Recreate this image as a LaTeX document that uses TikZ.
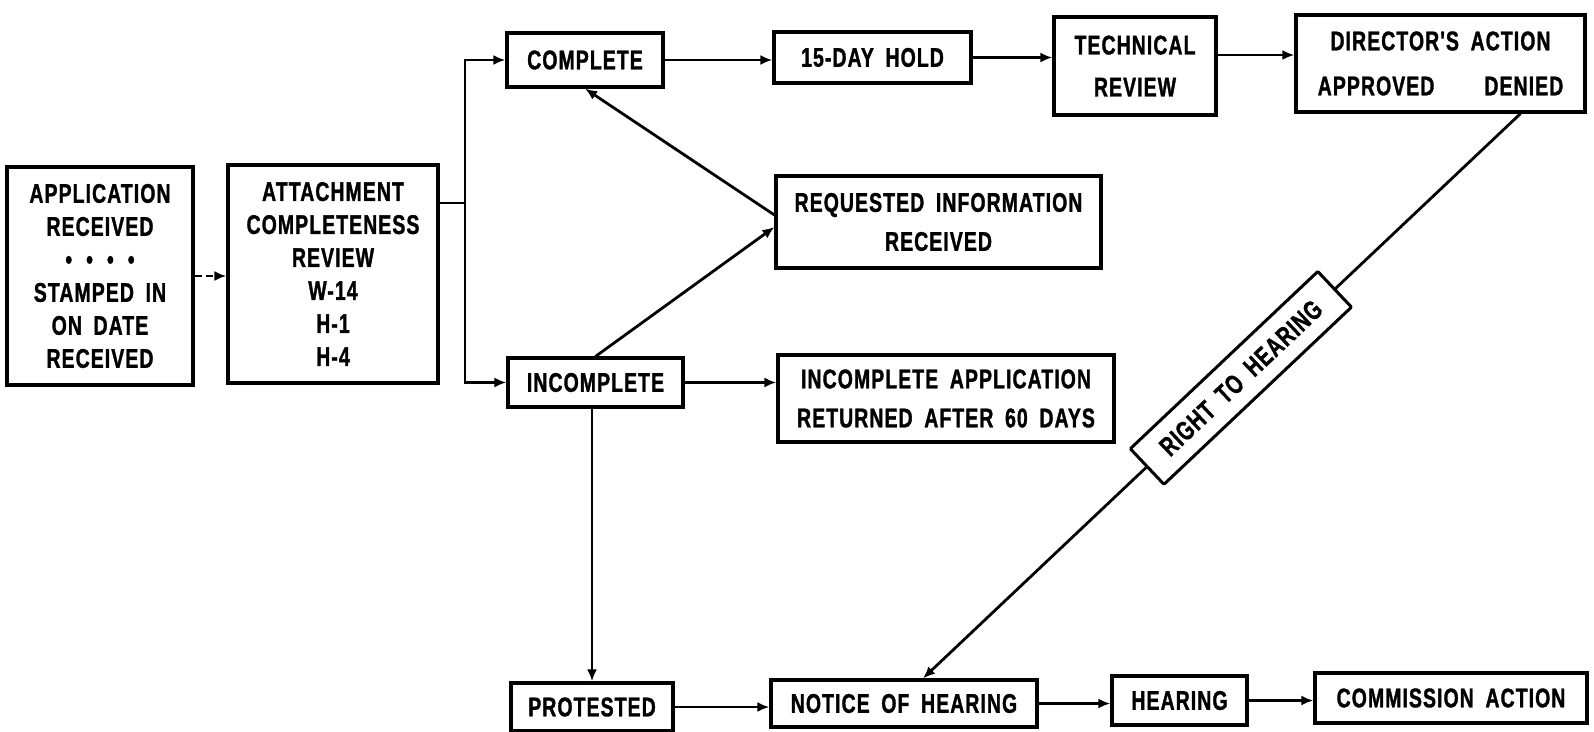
\documentclass[tikz,border=0pt]{standalone}
\usepackage{fontspec}
\newfontfamily\chartfont{Liberation Sans}[FakeStretch=0.72,FakeBold=1.2,WordSpace=1.8,LetterSpace=4]
\usetikzlibrary{arrows.meta}
\tikzset{
  stagebox/.style={draw, line width=3.2pt, fill=white, inner sep=0pt, align=center,
    font=\chartfont\bfseries\fontsize{27}{33}\selectfont},
  flow/.style={line width=2.8pt, -{Latex[length=12pt,width=10pt]}},
  plainline/.style={line width=2.8pt},
  tagbox/.style={draw, line width=3pt, fill=white, inner sep=0pt,
    minimum width=258pt, minimum height=49pt, rounded corners=1pt,
    font=\chartfont\bfseries\fontsize{27}{33}\selectfont}
}
\begin{document}
\begin{tikzpicture}[x=1pt, y=-1pt]
\useasboundingbox[fill=white] (0,0) rectangle (1594,731);

% intake column
\node[stagebox, minimum width=186pt, minimum height=218pt] (app) at (100,276)
  {APPLICATION\\RECEIVED\\\textbullet\hspace{14pt}\textbullet\hspace{14pt}\textbullet\hspace{14pt}\textbullet\\STAMPED IN\\ON DATE\\RECEIVED};
\node[stagebox, minimum width=210pt, minimum height=218pt] (att) at (333,274)
  {ATTACHMENT\\COMPLETENESS\\REVIEW\\W-14\\H-1\\H-4};

% upper row
\node[stagebox, minimum width=156pt, minimum height=54pt] (comp) at (585,60) {COMPLETE};
\node[stagebox, minimum width=197pt, minimum height=51pt] (hold) at (872.5,57.5) {15-DAY HOLD};
\node[stagebox, minimum width=162pt, minimum height=98pt] (tech) at (1135,66) {TECHNICAL\\[9pt]REVIEW};
\node[stagebox, minimum width=289pt, minimum height=97pt] (dir) at (1440.5,63.5)
  {DIRECTOR'S ACTION\\[12pt]APPROVED\hspace{50pt}DENIED};

% middle
\node[stagebox, minimum width=325pt, minimum height=92pt] (req) at (938.5,222)
  {REQUESTED INFORMATION\\[6pt]RECEIVED};
\node[stagebox, minimum width=175pt, minimum height=49pt] (inc) at (595.5,382.5) {INCOMPLETE};
\node[stagebox, minimum width=336pt, minimum height=87pt] (incapp) at (946,398.5)
  {INCOMPLETE APPLICATION\\[6pt]RETURNED AFTER 60 DAYS};

% lower row
\node[stagebox, minimum width=162pt, minimum height=48pt] (prot) at (592,707) {PROTESTED};
\node[stagebox, minimum width=266pt, minimum height=47pt] (notice) at (904,703.5) {NOTICE OF HEARING};
\node[stagebox, minimum width=135pt, minimum height=49pt] (hear) at (1179.5,700.5) {HEARING};
\node[stagebox, minimum width=272pt, minimum height=50pt] (comm) at (1451,698) {COMMISSION ACTION};

% connectors
\draw[flow, dash pattern=on 7pt off 4pt] (app.east) -- (app.east -| att.west);
\coordinate (split) at (465,203);
\draw[plainline] (split -| att.east) -- (split);
\draw[line width=2.8pt, {Latex[length=12pt,width=10pt]}-{Latex[length=12pt,width=10pt]}]
  (comp.west) -- (comp.west -| split) -- (inc.west -| split) -- (inc.west);
\draw[flow] (comp.east) -- (comp.east -| hold.west);
\draw[flow] (hold.east) -- (hold.east -| tech.west);
\draw[flow] ([yshift=11pt]tech.east) -- ([yshift=11pt]tech.east -| dir.west);
\draw[flow] ([yshift=7pt]req.west) -- (comp.south);
\draw[flow] (inc.north) -- ([yshift=-5pt]req.west);
\draw[flow] (inc.east) -- (inc.east -| incapp.west);
\draw[flow] (prot.north |- inc.south) -- (prot.north);
\draw[flow] (prot.east) -- (prot.east -| notice.west);
\draw[flow] (notice.east) -- (notice.east -| hear.west);
\draw[flow] (hear.east) -- (hear.east -| comm.west);
\draw[flow] ([xshift=80pt]dir.south) -- node[tagbox, pos=0.468, sloped] (right) {RIGHT TO HEARING} ([xshift=19pt]notice.north);
\end{tikzpicture}
\end{document}
